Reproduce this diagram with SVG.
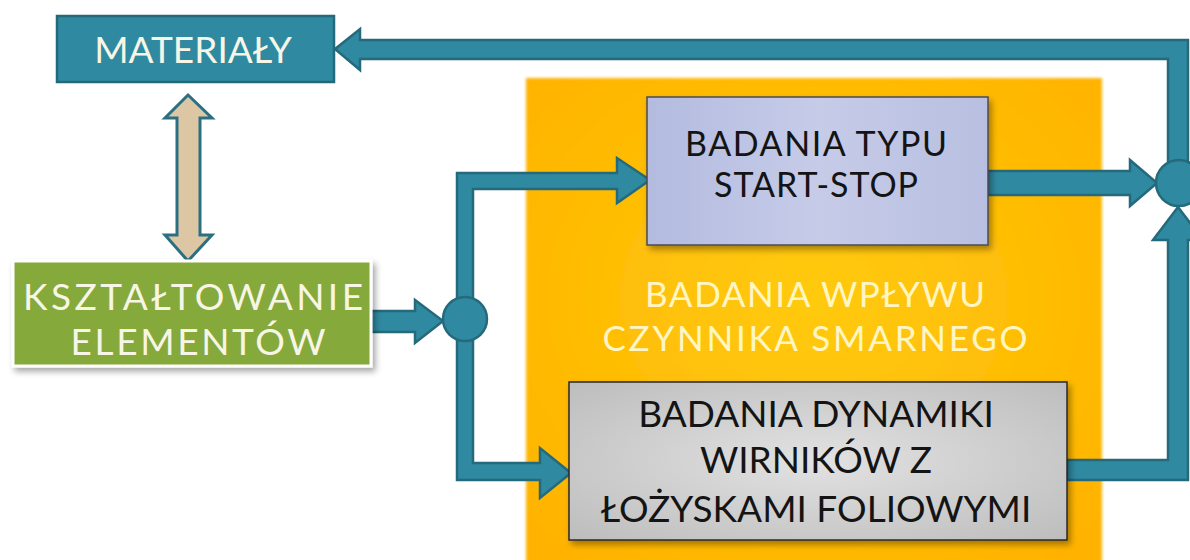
<svg xmlns="http://www.w3.org/2000/svg" width="1190" height="560" viewBox="0 0 1190 560">
<defs>
<style>
.conn{fill:#2f8aa1;stroke:#246a7c;stroke-width:2.5;stroke-linejoin:miter}
.t{font-family:Lato,"Open Sans","DejaVu Sans",sans-serif;text-anchor:middle}
.dark{fill:#141414}
.light{fill:#f7f6e6}
.mid{fill:#fff6c4}
</style>
<radialGradient id="og" cx="0.5" cy="0.45" r="0.7">
<stop offset="0" stop-color="#ffca0c"/>
<stop offset="1" stop-color="#ffb200"/>
</radialGradient>
<linearGradient id="lav" x1="0" y1="0" x2="1" y2="0">
<stop offset="0" stop-color="#b3bbdf"/>
<stop offset="0.5" stop-color="#c6cbe8"/>
<stop offset="1" stop-color="#b8bfe0"/>
</linearGradient>
<radialGradient id="gray" cx="0.5" cy="0.5" r="0.7">
<stop offset="0" stop-color="#e2e2e2"/>
<stop offset="1" stop-color="#bdbdbd"/>
</radialGradient>
<filter id="sh" x="-10%" y="-10%" width="125%" height="130%">
<feDropShadow dx="3" dy="4" stdDeviation="3" flood-color="#000" flood-opacity="0.35"/>
</filter>
<filter id="blur"><feGaussianBlur stdDeviation="1.5"/></filter>
</defs>
<rect width="1190" height="560" fill="#ffffff"/>

<g id="lubricant-group">
<rect x="526" y="78" width="576" height="490" fill="url(#og)" filter="url(#blur)"/>
<text class="t mid" font-size="35"><tspan x="815" y="307" textLength="340">BADANIA WPŁYWU</tspan><tspan x="815" y="351" textLength="425">CZYNNIKA SMARNEGO</tspan></text>
</g>

<g id="connectors">
<polygon class="conn" points="335,49 360,29 360,40 1188,40 1188,175 1168,175 1168,59 360,59 360,70"/>
<polygon class="conn" points="988,171 1130,171 1130,160 1157,183 1130,206 1130,195 988,195"/>
<polygon class="conn" points="1067,460 1168,460 1168,240 1153,240 1178,207 1203,240 1188,240 1188,480 1067,480"/>
<polygon class="conn" points="371,311 415,311 415,300 443,321 415,343 415,332 371,332"/>
<polygon class="conn" points="457,173 617,173 617,158 650,180 617,203 617,189 473,189 473,463 540,463 540,448 571,473 540,498 540,480 457,480"/>
<circle class="conn" cx="465" cy="319" r="22"/>
<circle class="conn" cx="1179" cy="183" r="23"/>
<polygon fill="#dcc6a4" stroke="#2a7082" stroke-width="3" points="188,95 212,118 200,118 200,235 212,235 188,261 165,235 177,235 177,118 165,118"/>
</g>

<g id="materialy">
<rect x="57" y="16" width="277" height="66" fill="#2f8aa1" stroke="#24697a" stroke-width="2.5"/>
<text class="t light" x="193" y="63" font-size="37">MATERIAŁY</text>
</g>

<g id="ksztaltowanie">
<rect x="13" y="261" width="358" height="105" fill="#86a93a" stroke="#ffffff" stroke-width="3" filter="url(#sh)"/>
<text class="t light" font-size="37"><tspan x="193" y="310" textLength="340">KSZTAŁTOWANIE</tspan><tspan x="198" y="355" textLength="255">ELEMENTÓW</tspan></text>
</g>

<g id="start-stop">
<rect x="647" y="97" width="341" height="148" fill="url(#lav)" stroke="#4a4a55" stroke-width="1.5" filter="url(#sh)"/>
<text class="t dark" font-size="34"><tspan x="816" y="156" textLength="262">BADANIA TYPU</tspan><tspan x="816" y="197" textLength="204">START-STOP</tspan></text>
</g>

<g id="dynamika">
<rect x="569" y="382" width="498" height="158" fill="url(#gray)" stroke="#2a2a2a" stroke-width="1.5" filter="url(#sh)"/>
<text class="t dark" font-size="37"><tspan x="816" y="427">BADANIA DYNAMIKI</tspan><tspan x="816" y="473">WIRNIKÓW Z</tspan><tspan x="816" y="522">ŁOŻYSKAMI FOLIOWYMI</tspan></text>
</g>
</svg>
